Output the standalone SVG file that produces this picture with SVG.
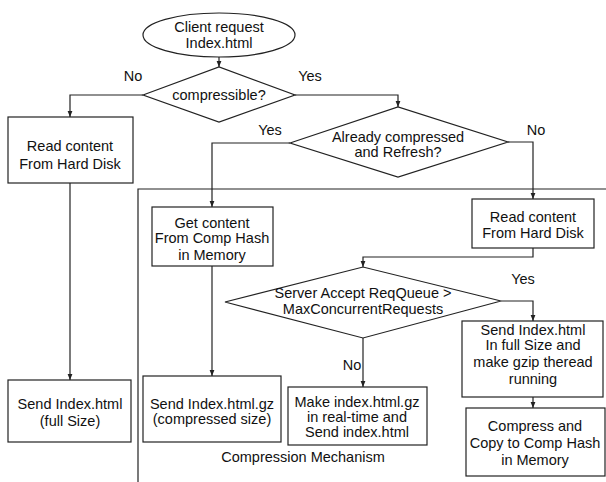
<svg xmlns="http://www.w3.org/2000/svg" width="606" height="482" viewBox="0 0 606 482">
<defs>
<style>
.s{fill:#fff;stroke:#222;stroke-width:1.2}
.c{fill:none;stroke:#222;stroke-width:1.2}
text{font-family:"Liberation Sans",Arial,sans-serif;font-size:14.5px;fill:#111;text-anchor:middle}
.l{text-anchor:start}
</style>
<marker id="a" viewBox="0 0 10 10" refX="10" refY="5" markerWidth="6" markerHeight="6" orient="auto" markerUnits="userSpaceOnUse">
<path d="M0,1 L10,5 L0,9 Z" fill="#222"/>
</marker>
</defs>
<rect width="606" height="482" fill="#fff"/>
<g id="boundary">
<path class="c" d="M606,189 H138 V482"/>
<text x="303" y="462">Compression Mechanism</text>
</g>
<g id="connectors">
<path class="c" marker-end="url(#a)" d="M219,57 V67"/>
<path class="c" marker-end="url(#a)" d="M143,95 H70 V117"/>
<path class="c" marker-end="url(#a)" d="M295,95 H398 V107"/>
<path class="c" marker-end="url(#a)" d="M70,183 V380"/>
<path class="c" marker-end="url(#a)" d="M290,143 H212 V207"/>
<path class="c" marker-end="url(#a)" d="M508,142 H533 V199"/>
<path class="c" marker-end="url(#a)" d="M212,266 V376"/>
<path class="c" marker-end="url(#a)" d="M533,248 V257 H363 V267"/>
<path class="c" marker-end="url(#a)" d="M363,338 V387"/>
<path class="c" marker-end="url(#a)" d="M501,301 H533 V321"/>
<path class="c" marker-end="url(#a)" d="M533,397 V408"/>
<text x="133" y="81">No</text>
<text x="310" y="81">Yes</text>
<text x="270" y="135">Yes</text>
<text x="536" y="135">No</text>
<text x="523" y="284">Yes</text>
<text x="352" y="370">No</text>
</g>
<g id="start">
<ellipse class="s" cx="219" cy="35" rx="76" ry="22"/>
<text x="219" y="32">Client request</text>
<text x="219" y="48">Index.html</text>
</g>
<g id="d1">
<polygon class="s" points="143,95 219,67 295,95 219,122"/>
<text x="219" y="100">compressible?</text>
</g>
<g id="readLeft">
<rect class="s" x="8" y="117" width="125" height="66"/>
<text x="70" y="151">Read content</text>
<text x="70" y="169">From Hard Disk</text>
</g>
<g id="sendFull">
<rect class="s" x="8" y="380" width="123" height="62"/>
<text x="70" y="409">Send Index.html</text>
<text x="70" y="426">(full Size)</text>
</g>
<g id="d2">
<polygon class="s" points="290,143 398,107 508,142 398,177"/>
<text x="398" y="142">Already compressed</text>
<text x="398" y="157">and Refresh?</text>
</g>
<g id="getContent">
<rect class="s" x="152" y="207" width="121" height="59"/>
<text x="212" y="228">Get content</text>
<text x="212" y="243">From Comp Hash</text>
<text x="212" y="260">in Memory</text>
</g>
<g id="readRight">
<rect class="s" x="472" y="199" width="122" height="49"/>
<text x="533" y="222">Read content</text>
<text x="533" y="238">From Hard Disk</text>
</g>
<g id="d3">
<polygon class="s" points="225,302 363,267 501,301 363,338"/>
<text x="363" y="298">Server Accept ReqQueue &gt;</text>
<text x="363" y="314">MaxConcurrentRequests</text>
</g>
<g id="sendGz">
<rect class="s" x="143" y="376" width="138" height="66"/>
<text x="212" y="409">Send Index.html.gz</text>
<text x="212" y="424">(compressed size)</text>
</g>
<g id="makeGz">
<rect class="s" x="288" y="387" width="139" height="58"/>
<text x="357" y="407">Make index.html.gz</text>
<text x="357" y="422">in real-time and</text>
<text x="357" y="437">Send index.html</text>
</g>
<g id="sendThread">
<rect class="s" x="462" y="321" width="141" height="76"/>
<text x="533" y="335">Send Index.html</text>
<text x="533" y="350">In full Size and</text>
<text x="533" y="367">make gzip theread</text>
<text x="533" y="384">running</text>
</g>
<g id="compress">
<rect class="s" x="466" y="408" width="139" height="68"/>
<text x="535" y="431">Compress and</text>
<text x="535" y="448">Copy to Comp Hash</text>
<text x="535" y="465">in Memory</text>
</g>
</svg>
